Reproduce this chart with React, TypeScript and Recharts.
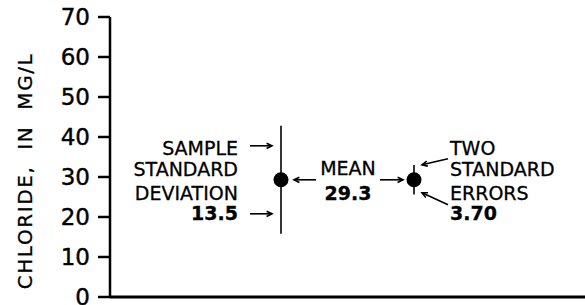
import React from 'react';
import {
  ComposedChart,
  Scatter,
  ErrorBar,
  XAxis,
  YAxis,
  Label,
} from 'recharts';

// values
const yTicks = [0, 10, 20, 30, 40, 50, 60, 70];
const pointX = [3.6, 6.4];
const meanValues = [29.3, 29.3];
const spreadValues = [13.5, 3.7];
const spreadKinds = ['sd', 'se'];
const sdLabel = ['SAMPLE', 'STANDARD', 'DEVIATION', '13.5'];
const seLabel = ['TWO', 'STANDARD', 'ERRORS', '3.70'];
const meanLabel = ['MEAN', '29.3'];

const data = pointX.map((x, i) => ({
  x,
  y: meanValues[i],
  err: spreadValues[i],
  kind: spreadKinds[i],
}));

const FONT = '"DejaVu Sans", sans-serif';

function Arrow({ x1, y1, x2, y2 }: { x1: number; y1: number; x2: number; y2: number }) {
  // line from (x1,y1) to tip (x2,y2) with small open head
  const a = Math.atan2(y2 - y1, x2 - x1);
  const h = 6;
  const p1 = [x2 - h * Math.cos(a - 0.45), y2 - h * Math.sin(a - 0.45)];
  const p2 = [x2 - h * Math.cos(a + 0.45), y2 - h * Math.sin(a + 0.45)];
  return (
    <g stroke="#000" strokeWidth={1.6} fill="none">
      <line x1={x1} y1={y1} x2={x2} y2={y2} />
      <polyline points={`${p1[0]},${p1[1]} ${x2},${y2} ${p2[0]},${p2[1]}`} />
    </g>
  );
}

function Txt(props: any) {
  return (
    <text
      fontFamily={FONT}
      fontSize={19}
      fill="#000"
      stroke="#000"
      strokeWidth={0.3}
      {...props}
    />
  );
}

function PointShape(props: any) {
  const { cx, cy, payload } = props;
  const rows = [cy - 25, cy - 4, cy + 20, cy + 40];
  if (payload.kind === 'sd') {
    return (
      <g>
        <circle cx={cx} cy={cy} r={7.5} fill="#000" />
        {sdLabel.map((t, i) => (
          <Txt
            key={t}
            x={cx - 43}
            y={rows[i]}
            textAnchor="end"
            fontWeight={i === 3 ? 'bold' : 'normal'}
          >
            {t}
          </Txt>
        ))}
        <Arrow x1={cx - 31} y1={cy - 34} x2={cx - 9} y2={cy - 34} />
        <Arrow x1={cx - 31} y1={cy + 34} x2={cx - 9} y2={cy + 34} />
        <Arrow x1={cx + 35} y1={cy} x2={cx + 13} y2={cy} />
      </g>
    );
  }
  return (
    <g>
      <circle cx={cx} cy={cy} r={7.5} fill="#000" />
      {meanLabel.map((t, i) => (
        <Txt
          key={t}
          x={cx - 66}
          y={i === 0 ? cy - 5 : cy + 20}
          textAnchor="middle"
          fontWeight={i === 1 ? 'bold' : 'normal'}
        >
          {t}
        </Txt>
      ))}
      <Arrow x1={cx - 34} y1={cy} x2={cx - 11} y2={cy} />
      {seLabel.map((t, i) => (
        <Txt
          key={t}
          x={cx + 36}
          y={rows[i]}
          textAnchor="start"
          fontWeight={i === 3 ? 'bold' : 'normal'}
        >
          {t}
        </Txt>
      ))}
      <Arrow x1={cx + 34} y1={cy - 21} x2={cx + 8} y2={cy - 15} />
      <Arrow x1={cx + 34} y1={cy + 25} x2={cx + 8} y2={cy + 13} />
    </g>
  );
}

export default function App() {
  return (
    <div style={{ position: 'absolute', left: 0, top: 0, background: '#fff' }}>
      <ComposedChart
        width={585}
        height={305}
        data={data}
        margin={{ top: 17, right: 0, bottom: 7, left: 0 }}
      >
        <XAxis
          type="number"
          dataKey="x"
          domain={[0, 10]}
          tick={false}
          tickLine={false}
          height={1}
          axisLine={{ stroke: '#000', strokeWidth: 3 }}
        />
        <YAxis
          type="number"
          dataKey="y"
          domain={[0, 70]}
          ticks={yTicks}
          width={110}
          interval={0}
          tickSize={12}
          tickMargin={8}
          axisLine={{ stroke: '#000', strokeWidth: 2.5 }}
          tickLine={{ stroke: '#000', strokeWidth: 2.5 }}
          tick={{ fill: '#000', stroke: '#000', strokeWidth: 0.4, fontSize: 23, fontFamily: FONT }}
        >
          <Label
            content={({ viewBox }: any) => (
              <text
                x={25}
                y={viewBox.y + viewBox.height / 2 + 14}
                transform={`rotate(-90, 25, ${viewBox.y + viewBox.height / 2 + 14})`}
                textAnchor="middle"
                dominantBaseline="central"
                fontFamily={FONT}
                fontSize={20}
                letterSpacing={1.6}
                fill="#000"
                stroke="#000"
                strokeWidth={0.3}
                style={{ whiteSpace: 'pre' }}
              >
                {'CHLORIDE,  IN  MG/L'}
              </text>
            )}
          />
        </YAxis>
        <Scatter dataKey="y" shape={PointShape} isAnimationActive={false}>
          <ErrorBar dataKey="err" direction="y" width={0} stroke="#000" strokeWidth={1.6} />
        </Scatter>
      </ComposedChart>
    </div>
  );
}
